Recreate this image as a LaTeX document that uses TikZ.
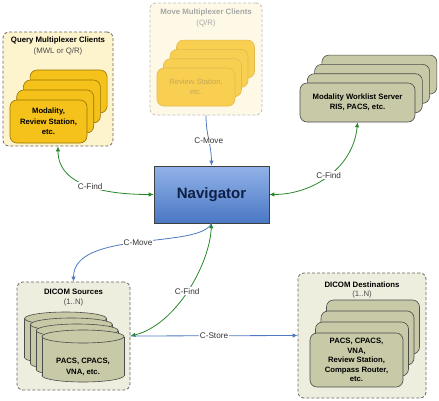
\documentclass[tikz,border=0pt]{standalone}
\usepackage{xcolor}
\usepackage{fontspec}
\setmainfont{Liberation Sans}
\usetikzlibrary{arrows.meta}

% cilindro de DICOM Sources: centro x, centro y
\newcommand{\dicomDrum}[2]{%
  \filldraw[fill=oCard, draw=black!70, line width=0.6pt] (#1,#2+19.5) ellipse [x radius=41, y radius=6.5];
  \fill[oCard] (#1-41,#2-19.5) rectangle (#1+41,#2+19.5);
  \draw[black!70, line width=0.6pt] (#1-41,#2-19.5) -- (#1-41,#2+19.5) (#1+41,#2-19.5) -- (#1+41,#2+19.5);
  \filldraw[fill=oCard, draw=black!70, line width=0.6pt] (#1,#2-19.5) ellipse [x radius=41, y radius=6.5];}

\begin{document}
\begin{tikzpicture}[x=1pt, y=-1pt,
    every node/.style={font=\fontsize{7.8}{10}\selectfont, align=center, inner sep=0pt},
    group/.style={draw=black!60, dash pattern=on 3pt off 2pt, rounded corners=6pt, line width=0.8pt},
    card/.style={draw, rounded corners=7pt, line width=0.6pt, font=\fontsize{7.7}{10.3}\selectfont\bfseries},
    lbl/.style={fill=white, inner sep=0.8pt, font=\fontsize{8.2}{9}\selectfont, text=black!80},
    move/.style={draw=moveBlue, line width=0.8pt, -{Latex[length=5pt, width=4.5pt]}},
    find/.style={draw=findGreen, line width=0.8pt, {Latex[length=5pt, width=4.5pt]}-{Latex[length=5pt, width=4.5pt]}}]

    % Colores
    \definecolor{findGreen}{RGB}{40,135,40}
    \definecolor{moveBlue}{RGB}{80,122,192}
    \definecolor{qGroup}{RGB}{253,243,205}
    \definecolor{qCard}{RGB}{245,194,27}
    \definecolor{qEdge}{RGB}{150,115,0}
    \definecolor{mGroup}{RGB}{254,249,230}
    \definecolor{mCard}{RGB}{248,207,80}
    \definecolor{mEdge}{RGB}{228,186,80}
    \definecolor{mText}{RGB}{200,168,90}
    \definecolor{oGroup}{RGB}{238,238,222}
    \definecolor{oCard}{RGB}{200,201,167}
    \definecolor{navTop}{RGB}{145,178,232}
    \definecolor{navBot}{RGB}{74,120,196}
    \definecolor{navText}{RGB}{15,30,68}

    \useasboundingbox (0,0) rectangle (439,400);

    % Query Multiplexer Clients
    \node[group, fill=qGroup, minimum width=110pt, minimum height=114pt] (qmc) at (58,89) {};
    \node (qmcTitle) at (58,40) {\bfseries Query Multiplexer Clients};
    \node[text=black!70] (qmcSub) at (58,51) {(MWL or Q/R)};
    \node[card, draw=qEdge, fill=qCard, minimum width=77pt, minimum height=43pt] (q3) at (68.6,91.5) {};
    \node[card, draw=qEdge, fill=qCard, minimum width=77pt, minimum height=43pt] (q2) at (61.9,101.5) {};
    \node[card, draw=qEdge, fill=qCard, minimum width=77pt, minimum height=43pt] (q1) at (55.2,111.5) {};
    \node[card, draw=qEdge, fill=qCard, minimum width=77pt, minimum height=43pt] (q0) at (48.5,121.5) {Modality,\\Review Station,\\etc.};

    % Move Multiplexer Clients (atenuado)
    \node[group, draw=black!25, fill=mGroup, minimum width=112pt, minimum height=112pt] (mmc) at (206,59) {};
    \node[text=black!35] (mmcTitle) at (206,12) {\bfseries Move Multiplexer Clients};
    \node[text=black!35] (mmcSub) at (206,23) {(Q/R)};
    \node[card, draw=mEdge, fill=mCard, minimum width=78pt, minimum height=38pt] (m3) at (215.5,59.1) {};
    \node[card, draw=mEdge, fill=mCard, minimum width=78pt, minimum height=38pt] (m2) at (209,68.4) {};
    \node[card, draw=mEdge, fill=mCard, minimum width=78pt, minimum height=38pt] (m1) at (202.5,77.7) {};
    \node[card, draw=mEdge, fill=mCard, text=mText, font=\fontsize{7.7}{10.3}\selectfont, minimum width=78pt, minimum height=38pt] (m0) at (196,87) {Review Station,\\etc.};

    % Modality Worklist Server
    \node[card, draw=black!70, fill=oCard, minimum width=115pt, minimum height=39pt] (w3) at (379.4,74.6) {};
    \node[card, draw=black!70, fill=oCard, minimum width=115pt, minimum height=39pt] (w2) at (372.1,83.9) {};
    \node[card, draw=black!70, fill=oCard, minimum width=115pt, minimum height=39pt] (w1) at (364.8,93.2) {};
    \node[card, draw=black!70, fill=oCard, minimum width=115pt, minimum height=39pt] (mws) at (357.5,102.5) {Modality Worklist Server\\RIS, PACS, etc.};

    % Navigator
    \node[draw=black!75, line width=0.6pt, top color=navTop, bottom color=navBot, minimum width=115pt, minimum height=57pt,
          text=navText, font=\fontsize{15}{17}\selectfont\bfseries] (nav) at (211.5,194.5) {Navigator};

    % DICOM Sources
    \node[group, fill=oGroup, minimum width=113pt, minimum height=108pt] (src) at (73.5,336) {};
    \node (srcTitle) at (73.5,292) {\bfseries DICOM Sources};
    \node[text=black!70] (srcSub) at (73.5,302) {(1..N)};
    \dicomDrum{65.6}{338}
    \dicomDrum{71.4}{344}
    \dicomDrum{77.2}{350}
    \dicomDrum{83}{356}
    \node[font=\fontsize{7.7}{10.3}\selectfont\bfseries] (srcText) at (83,367) {PACS, CPACS,\\VNA, etc.};

    % DICOM Destinations
    \node[group, fill=oGroup, minimum width=128pt, minimum height=125pt] (dst) at (362,335.5) {};
    \node (dstTitle) at (362,285) {\bfseries DICOM Destinations};
    \node[text=black!70] (dstSub) at (362,294) {(1..N)};
    \node[card, draw=black!70, fill=oCard, minimum width=93pt, minimum height=54pt] (d3) at (373,327) {};
    \node[card, draw=black!70, fill=oCard, minimum width=93pt, minimum height=54pt] (d2) at (367.5,338) {};
    \node[card, draw=black!70, fill=oCard, minimum width=93pt, minimum height=54pt] (d1) at (362,349) {};
    \node[card, draw=black!70, fill=oCard, minimum width=93pt, minimum height=54pt, font=\fontsize{7.7}{9.6}\selectfont\bfseries] (d0) at (356.5,360) {PACS, CPACS,\\VNA,\\Review Station,\\Compass Router,\\etc.};

    % Conexiones
    \draw[move] (mmc.south) to[out=-90, in=90] node[lbl] {C-Move} (nav.north);
    \draw[find] (qmc.south) to[out=-90, in=180] node[lbl] {C-Find} (nav.west);
    \draw[find] (mws.south) to[out=-95, in=0] node[lbl] {C-Find} (nav.east);
    \draw[move] (nav.south) .. controls +(-12,26) and +(0,-52) .. node[lbl] {C-Move} (src.north);
    \draw[find] (src.east) .. controls +(45,-11) and +(-2,42) .. node[lbl] {C-Find} (nav.south);
    \draw[move] (src.east) -- node[lbl] {C-Store} (dst.west);

\end{tikzpicture}
\end{document}
